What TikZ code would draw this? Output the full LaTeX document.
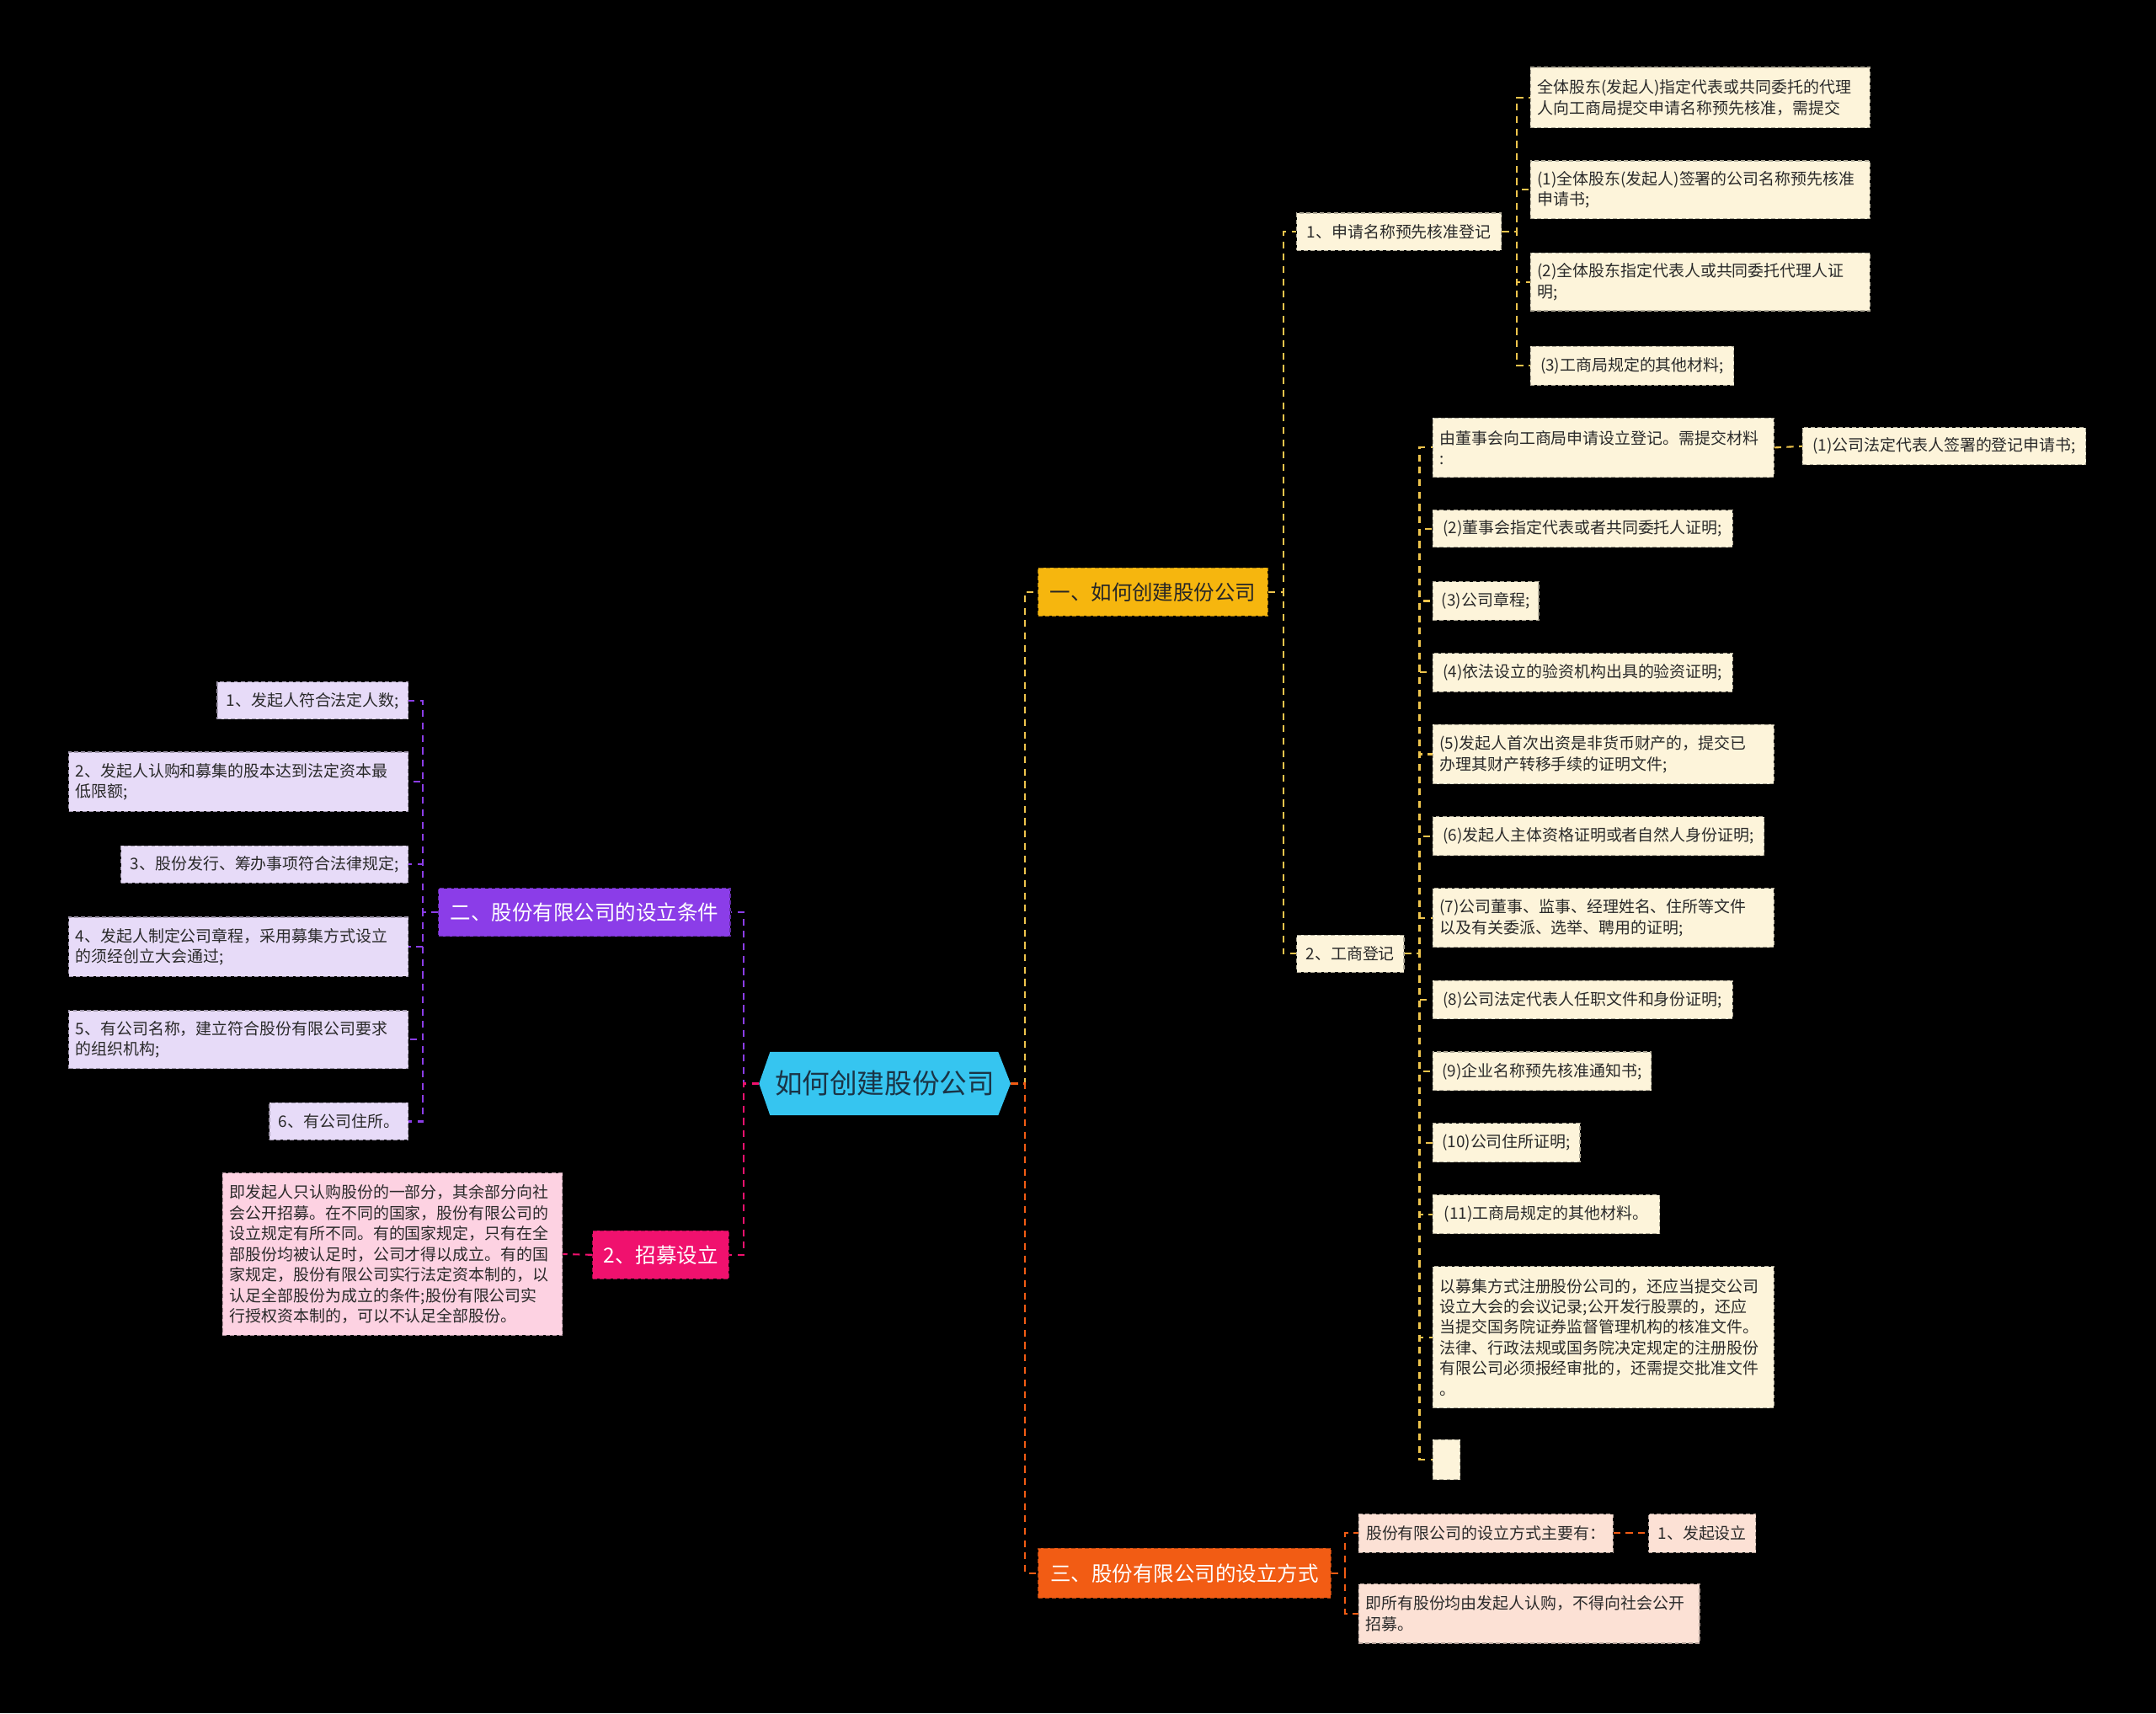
\documentclass[tikz,border=0pt]{standalone}
\usepackage{fontspec}
\setmainfont{Noto Sans CJK SC}
\definecolor{rootfill}{HTML}{36C5F0}
\definecolor{roottext}{HTML}{1A3446}
\definecolor{fillA}{HTML}{F6B60E}
\definecolor{fillB}{HTML}{8B3DE8}
\definecolor{fillC}{HTML}{F0116E}
\definecolor{fillD}{HTML}{F25C14}
\definecolor{leafA}{HTML}{FDF4DA}
\definecolor{leafB}{HTML}{E7DBF8}
\definecolor{leafC}{HTML}{FDD2E2}
\definecolor{leafD}{HTML}{FCE1D5}
\definecolor{lineA}{HTML}{EEC44C}
\definecolor{lineB}{HTML}{8B3DE8}
\definecolor{lineC}{HTML}{F0116E}
\definecolor{lineD}{HTML}{F25C14}
\definecolor{txt}{HTML}{2A2A2A}
\begin{document}
\begin{tikzpicture}[x=1pt,y=-1pt,
  box/.style={rectangle, align=left, inner xsep=5pt, inner ysep=2pt,
    font=\fontsize{11.6}{15}\selectfont, text=txt,
    dash pattern=on 3pt off 2pt, line width=0.7pt, minimum height=28pt},
  lfA/.style={box, fill=leafA, draw=leafA!70!black},
  lfB/.style={box, fill=leafB, draw=leafB!70!black},
  lfC/.style={box, fill=leafC, draw=leafC!70!black},
  lfD/.style={box, fill=leafD, draw=leafD!70!black},
  lvl/.style={rectangle, align=left, inner xsep=7pt, font=\fontsize{15}{18}\selectfont,
    minimum height=35pt, dash pattern=on 3pt off 2pt, line width=0.7pt},
  conn/.style={line width=1.3pt, dash pattern=on 5pt off 4pt},
  cA/.style={conn, draw=lineA},
  cB/.style={conn, draw=lineB},
  cC/.style={conn, draw=lineC},
  cD/.style={conn, draw=lineD}
]
\useasboundingbox[fill=black] (0,0) rectangle (1568,1246);

% root hexagon
\fill[rootfill] (552,788) -- (560,765) -- (726,765) -- (735,788) -- (726,811) -- (560,811) -- cycle;
\node[rectangle, minimum width=183pt, minimum height=46pt, inner sep=0pt,
  font=\fontsize{20}{24}\selectfont, text=roottext] (root) at (643.5,788) {如何创建股份公司};

% level 1
\node[lvl, fill=fillA, draw=fillA!70!black, text=black!85, minimum width=167pt] (A) at (838.5,430.5) {一、如何创建股份公司};
\node[lvl, fill=fillB, draw=fillB!70!black, text=white, minimum width=212pt] (B) at (425,663.5) {二、股份有限公司的设立条件};
\node[lvl, fill=fillC, draw=fillC!70!black, text=white, minimum width=99pt] (C) at (480.5,912.5) {2、招募设立};
\node[lvl, fill=fillD, draw=fillD!70!black, text=white, minimum width=213pt, minimum height=36pt] (D) at (861.5,1144) {三、股份有限公司的设立方式};

% A subtree
\node[lfA, minimum width=149pt, minimum height=27pt] (A1) at (1017.5,168.5) {1、申请名称预先核准登记};
\node[lfA, minimum width=78pt, minimum height=27pt] (A2) at (982,693.5) {2、工商登记};

\node[lfA, text width=237pt, minimum height=44pt] (A1a) at (1236.5,71) {全体股东(发起人)指定代表或共同委托的代理\\人向工商局提交申请名称预先核准，需提交};
\node[lfA, text width=237pt, minimum height=42pt] (A1b) at (1236.5,138) {(1)全体股东(发起人)签署的公司名称预先核准\\申请书;};
\node[lfA, text width=237pt, minimum height=42pt] (A1c) at (1236.5,205) {(2)全体股东指定代表人或共同委托代理人证\\明;};
\node[lfA, minimum width=148pt] (A1d) at (1187,266) {(3)工商局规定的其他材料;};

\node[lfA, text width=238pt, minimum height=43pt] (A2a) at (1166,325.5) {由董事会向工商局申请设立登记。需提交材料\\:};
\node[lfA, minimum width=206pt, minimum height=27pt] (A2a1) at (1414,324.5) {(1)公司法定代表人签署的登记申请书;};
\node[lfA, minimum width=218pt, minimum height=27pt] (A2b) at (1151,384.5) {(2)董事会指定代表或者共同委托人证明;};
\node[lfA, minimum width=77pt] (A2c) at (1080.5,437) {(3)公司章程;};
\node[lfA, minimum width=218pt] (A2d) at (1151,489) {(4)依法设立的验资机构出具的验资证明;};
\node[lfA, text width=238pt, minimum height=43pt] (A2e) at (1166,548.5) {(5)发起人首次出资是非货币财产的，提交已\\办理其财产转移手续的证明文件;};
\node[lfA, minimum width=241pt] (A2f) at (1162.5,608) {(6)发起人主体资格证明或者自然人身份证明;};
\node[lfA, text width=238pt, minimum height=43pt] (A2g) at (1166,667.5) {(7)公司董事、监事、经理姓名、住所等文件\\以及有关委派、选举、聘用的证明;};
\node[lfA, minimum width=218pt] (A2h) at (1151,727) {(8)公司法定代表人任职文件和身份证明;};
\node[lfA, minimum width=159pt] (A2i) at (1121.5,779) {(9)企业名称预先核准通知书;};
\node[lfA, minimum width=107pt] (A2j) at (1095.5,831) {(10)公司住所证明;};
\node[lfA, minimum width=165pt] (A2k) at (1124.5,883) {(11)工商局规定的其他材料。};
\node[lfA, text width=238pt, minimum height=103pt] (A2l) at (1166,972.5) {以募集方式注册股份公司的，还应当提交公司\\设立大会的会议记录;公开发行股票的，还应\\当提交国务院证券监督管理机构的核准文件。\\法律、行政法规或国务院决定规定的注册股份\\有限公司必须报经审批的，还需提交批准文件\\。};
\node[lfA, minimum width=20pt, minimum height=29pt, inner xsep=0pt] (A2m) at (1052,1061.5) {};

% B subtree
\node[lfB, minimum width=139pt, minimum height=27pt] (B1) at (227.5,509.5) {1、发起人符合法定人数;};
\node[lfB, text width=237pt, minimum height=43pt] (B2) at (173.5,568.5) {2、发起人认购和募集的股本达到法定资本最\\低限额;};
\node[lfB, minimum width=209pt, minimum height=27pt] (B3) at (192.5,628.5) {3、股份发行、筹办事项符合法律规定;};
\node[lfB, text width=237pt, minimum height=43pt] (B4) at (173.5,688.5) {4、发起人制定公司章程，采用募集方式设立\\的须经创立大会通过;};
\node[lfB, text width=237pt, minimum height=42pt] (B5) at (173.5,756) {5、有公司名称，建立符合股份有限公司要求\\的组织机构;};
\node[lfB, minimum width=101pt, minimum height=27pt] (B6) at (246.5,815.5) {6、有公司住所。};

% C subtree
\node[lfC, text width=237pt, minimum height=118pt] (C1) at (285.5,912) {即发起人只认购股份的一部分，其余部分向社\\会公开招募。在不同的国家，股份有限公司的\\设立规定有所不同。有的国家规定，只有在全\\部股份均被认足时，公司才得以成立。有的国\\家规定，股份有限公司实行法定资本制的，以\\认足全部股份为成立的条件;股份有限公司实\\行授权资本制的，可以不认足全部股份。};

% D subtree
\node[lfD, minimum width=185pt] (D1) at (1080.5,1115) {股份有限公司的设立方式主要有：};
\node[lfD, minimum width=78pt] (D1a) at (1238,1115) {1、发起设立};
\node[lfD, text width=238pt, minimum height=43pt] (D2) at (1112,1173.5) {即所有股份均由发起人认购，不得向社会公开\\招募。};

% connectors root
\draw[cA] (root.east) -- ++(10,0) |- (A.west);
\draw[cD] (root.east) -- ++(10,0) |- (D.west);
\draw[cB] (root.west) -- ++(-11,0) |- (B.east);
\draw[cC] (root.west) -- ++(-11,0) |- (C.east);

% A connectors
\foreach \n in {A1,A2} \draw[cA] (A.east) -- ++(11,0) |- (\n.west);
\foreach \n in {A1a,A1b,A1c,A1d} \draw[cA] (A1.east) -- ++(11,0) |- (\n.west);
\foreach \n in {A2a,A2b,A2c,A2d,A2e,A2f,A2g,A2h,A2i,A2j,A2k,A2l,A2m} \draw[cA] (A2.east) -- ++(11,0) |- (\n.west);
\draw[cA] (A2a.east) -- (A2a1.west);

% B connectors
\foreach \n in {B1,B2,B3,B4,B5,B6} \draw[cB] (B.west) -- ++(-11,0) |- (\n.east);

% C connector
\draw[cC] (C.west) -- (C1.east);

% D connectors
\foreach \n in {D1,D2} \draw[cD] (D.east) -- ++(10,0) |- (\n.west);
\draw[cD] (D1.east) -- (D1a.west);
\end{tikzpicture}
\end{document}
